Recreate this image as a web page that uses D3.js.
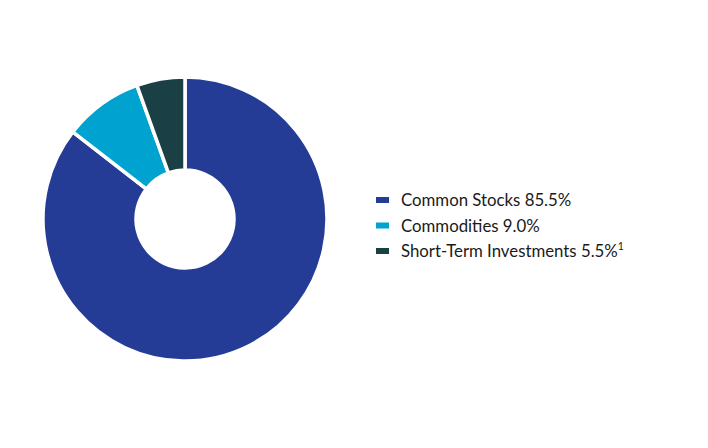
<!DOCTYPE html>
<html>
<head>
<meta charset="UTF-8">
<script src="https://d3js.org/d3.v7.min.js"></script>
<style>
  body { margin: 0; background: #fff; }
  svg text { font-family: Lato, "Open Sans", sans-serif; fill: #1a1a1a; }
</style>
</head>
<body>
<svg id="chart" width="708" height="448"></svg>
<script>
// Asset allocation
const categories = ['Common Stocks', 'Commodities', 'Short-Term Investments'];
const values = [85.5, 9.0, 5.5];
const footnotes = ['', '', '1'];
const colors = ['#243c96', '#00a3cf', '#1a4046'];

const svg = d3.select('#chart');
const cx = 185, cy = 219;
const outerR = 142, innerR = 49;

const pie = d3.pie().sort(null).value(d => d);
const arc = d3.arc().innerRadius(innerR).outerRadius(outerR);

svg.append('g')
  .attr('transform', `translate(${cx},${cy})`)
  .selectAll('path')
  .data(pie(values))
  .enter()
  .append('path')
  .attr('d', arc)
  .attr('fill', (d, i) => colors[i])
  .attr('stroke', '#fff')
  .attr('stroke-width', 3.5)
  .attr('stroke-linejoin', 'miter');

// legend
const legend = svg.append('g').attr('transform', 'translate(376,200)');
const rows = legend.selectAll('g')
  .data(categories)
  .enter()
  .append('g')
  .attr('transform', (d, i) => `translate(0,${i * 25.5})`);

rows.append('rect')
  .attr('x', 0).attr('y', -3)
  .attr('width', 13).attr('height', 6)
  .attr('fill', (d, i) => colors[i]);

const txt = rows.append('text')
  .attr('x', 25).attr('y', 6)
  .style('font-size', '16.8px');
txt.append('tspan').text((d, i) => `${d} ${values[i].toFixed(1)}%`);
txt.append('tspan')
  .attr('dy', -7)
  .style('font-size', '10.5px')
  .text((d, i) => footnotes[i]);
</script>
</body>
</html>
